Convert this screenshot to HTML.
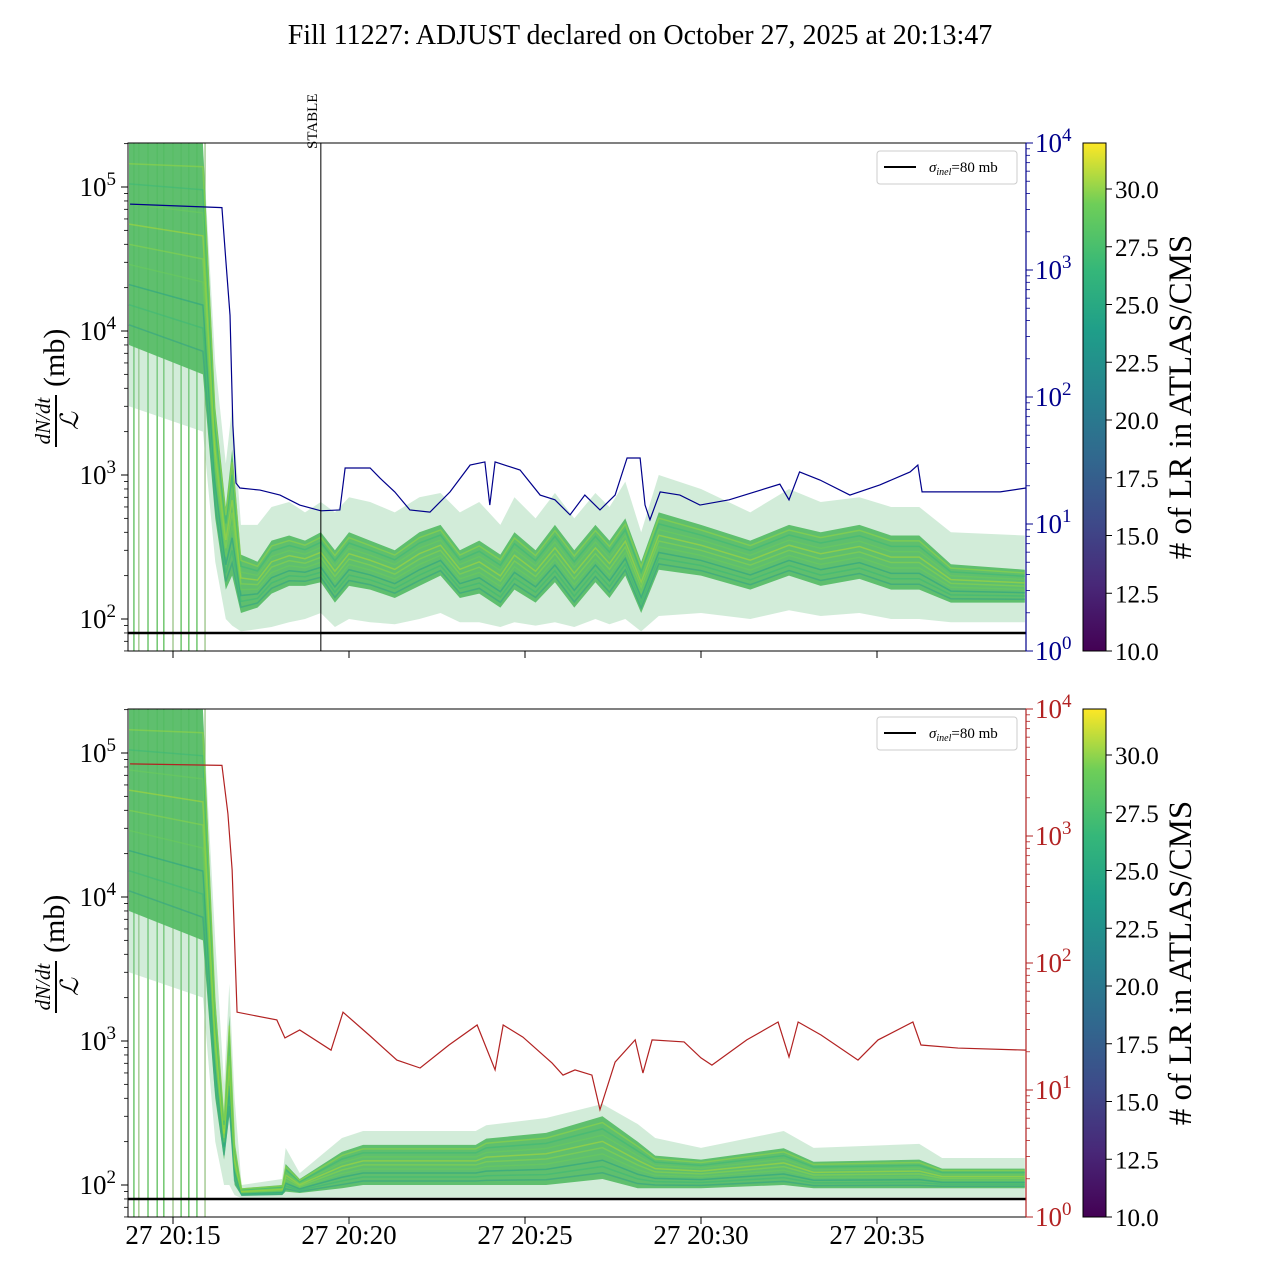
<!DOCTYPE html>
<html><head><meta charset="utf-8"><style>
html,body{margin:0;padding:0;background:#fff}
svg{display:block;font-family:"Liberation Serif","DejaVu Serif",serif}
</style></head><body>
<svg id="chart" width="1280" height="1280" viewBox="0 0 1280 1280" xmlns="http://www.w3.org/2000/svg">
<defs>
<linearGradient id="viridis" x1="0" y1="1" x2="0" y2="0">
<stop offset="0" stop-color="#440154"/><stop offset="0.13" stop-color="#482878"/><stop offset="0.25" stop-color="#3e4989"/><stop offset="0.38" stop-color="#31688e"/><stop offset="0.5" stop-color="#26828e"/><stop offset="0.63" stop-color="#1f9e89"/><stop offset="0.75" stop-color="#35b779"/><stop offset="0.88" stop-color="#6ece58"/><stop offset="1" stop-color="#fde725"/>
</linearGradient>
<clipPath id="clipTop"><rect x="128" y="143" width="898" height="508"/></clipPath>
<clipPath id="clipBot"><rect x="128" y="709" width="898" height="508"/></clipPath>
</defs>
<text x="640" y="44" text-anchor="middle" font-size="28">Fill 11227: ADJUST declared on October 27, 2025 at 20:13:47</text>
<g id="gTop"></g>
<g id="gBot"></g>
</svg>
<script>
// ---- data (time in minutes after 20:15) ----
const tickLabels = ["27 20:15","27 20:20","27 20:25","27 20:30","27 20:35"];
const tickTimes = [0,5,10,15,20];
const stableTime = 4.2;
const sigmaInel = 80;
const earlyLineTimes = [-1.11,-0.97,-0.71,-0.45,-0.26,0,0.23,0.45,0.68,0.91];
const bandTopT = [-1.25,0.85,1.2,1.5,1.68,1.93,2.4,2.8,3.3,3.75,4.2,4.6,5.0,5.6,6.3,7.0,7.6,8.15,8.7,9.3,9.7,10.3,10.85,11.4,12.0,12.4,12.85,13.3,13.8,15.0,16.4,17.5,18.4,19.5,20.4,21.2,22.1,24.2];
const bandTopOuterUp = [2e5,2e5,6000,1200,3000,450,450,600,650,550,650,550,700,650,550,700,750,550,650,450,700,500,750,500,750,600,900,400,1000,800,550,800,650,700,600,600,400,380];
const bandTopCoreUp = [2e5,2e5,3000,600,1500,280,250,350,380,350,400,300,400,350,300,400,450,300,350,280,400,300,450,300,450,350,500,250,550,450,350,450,400,450,380,380,240,220];
const bandTopCoreLo = [8000,5000,500,160,200,110,120,150,170,170,180,130,170,160,140,170,200,140,150,120,160,130,180,120,180,140,200,110,220,200,160,200,170,190,160,160,130,130];
const bandTopOuterLo = [3000,2000,250,100,90,82,85,88,95,100,110,88,100,95,92,100,110,95,95,88,95,90,95,88,100,92,100,82,105,110,100,115,105,110,100,100,95,95];
const bandBotT = [-1.25,0.85,1.2,1.45,1.6,1.75,1.95,3.1,3.2,3.6,4.8,5.4,8.6,8.9,10.6,12.2,13.2,13.7,15.0,17.35,18.2,21.2,21.85,24.2];
const bandBotOuterUp = [2e5,2e5,5000,500,2500,400,100,110,181,121,212,237,237,260,292,365,265,212,181,237,181,193,154,154];
const bandBotCoreUp = [2e5,2e5,2000,300,1500,200,95,100,140,110,170,190,190,210,230,300,200,160,150,180,145,150,130,130];
const bandBotCoreLo = [8000,5000,400,150,300,100,84,85,90,88,95,100,100,100,100,110,95,95,95,100,95,95,95,95];
const bandBotOuterLo = [3000,2000,200,100,100,85,81,81,82,81,82,82,82,82,82,82,82,82,82,82,82,82,82,82];
const lumTopT = [-1.22,1.39,1.5,1.62,1.7,1.79,1.9,2.47,3.04,3.6,4.2,4.74,4.89,5.6,5.88,6.3,6.73,7.3,7.87,8.44,8.86,9.0,9.15,9.86,10.43,10.85,11.28,11.7,12.13,12.56,12.9,13.27,13.41,13.55,13.84,14.4,14.97,15.8,17.24,17.5,17.8,18.38,19.23,20.08,20.94,21.16,21.28,23.5,24.23];
const lumTopV = [3300,3100,1200,440,60,21,19.2,18.5,16.9,14.1,12.7,12.9,27.6,27.6,23,17.9,12.9,12.4,17.9,29.1,30.8,14.1,30.8,26.6,16.9,15.5,11.8,16.9,12.9,16.9,33.1,33.1,14.1,10.8,17.9,16.9,14.1,15.5,20.6,15.5,25.7,22.2,16.9,20.3,25.7,29.1,17.9,17.9,19.2];
const lumBotT = [-1.22,1.39,1.56,1.68,1.82,2.95,3.18,3.6,4.49,4.83,5.57,6.36,7.02,7.84,8.64,9.15,9.38,9.94,10.77,11.08,11.42,11.9,12.13,12.56,13.13,13.35,13.61,14.52,15.0,15.31,16.3,17.19,17.5,17.76,18.41,19.46,20.03,21.02,21.25,22.3,24.23];
const lumBotV = [3700,3600,1500,540,41,35.6,25.7,29.7,20.6,41,27.1,17.2,14.9,22.6,32.5,14.4,32.5,26.1,16.3,13.1,14.4,13.1,7.0,16.6,24.8,13.6,24.8,23.9,17.9,15.7,24.8,34.3,18.2,34.3,27.1,17.2,24.8,34.3,22.6,21.4,20.6];
const cbarTicks = [10.0,12.5,15.0,17.5,20.0,22.5,25.0,27.5,30.0];
const leftTicks = [2,3,4,5];
const rightTicks = [0,1,2,3,4];

// ---- scales ----
const X0=128, X1=1026;
function xs(t){ return 173 + t*35.2; }
function mkY(top){ return v => top + 44 + (5 - Math.log10(v))*144; }
function mkYR(top){ return v => top + 508 - Math.log10(v)*127; }

const NS="http://www.w3.org/2000/svg";
function el(tag, attrs, parent){ const e=document.createElementNS(NS,tag); for(const k in attrs) e.setAttribute(k,attrs[k]); parent.appendChild(e); return e; }

function panel(g, top, clipId, T, oU, cU, cL, oL, lT, lV, lumColor, showX, showStable){
  const y=mkY(top), yr=mkYR(top);
  const cg=el('g',{'clip-path':'url(#'+clipId+')'},g);
  earlyLineTimes.forEach((t,i)=>{
    const l=el('line',{x1:xs(t),x2:xs(t),y1:top,y2:top+508,stroke:i%4==1?'#8fbf7a':'#4db84a','stroke-width':1.2},cg);
    
    
  });
  function poly(up, lo){
    let d='M'+T.map((t,i)=>xs(t)+','+y(up[i])).join('L');
    for(let i=T.length-1;i>=0;i--) d+='L'+xs(T[i])+','+y(lo[i]);
    return d+'Z';
  }
  const outer=el('path',{d:poly(oU,oL),fill:'#8fd0a0','fill-opacity':0.4},cg);
  
  
  const core=el('path',{d:poly(cU,cL),fill:'#52ba62','fill-opacity':0.9},cg);
  
  
  const fr=[0.1,0.2,0.3,0.4,0.5,0.6,0.7,0.8,0.9];
  const cols=['#2a9d8a','#35b779','#1f9e89','#6ece58','#8fd744','#b5de2b','#6ece58','#35b779','#9bd93c'];
  fr.forEach((f,j)=>{
    const d='M'+T.map((t,i)=>xs(t)+','+y(Math.pow(10,Math.log10(cL[i])*(1-f)+Math.log10(cU[i])*f))).join('L');
    const p=el('path',{d:d,fill:'none',stroke:cols[j],'stroke-width':1.5,'stroke-opacity':0.5},cg);
    
    
  });
  const sl=el('line',{x1:X0,x2:X1,y1:y(sigmaInel),y2:y(sigmaInel),stroke:'#000','stroke-width':2.5},g);
  
  
  const lp=el('path',{d:'M'+lT.map((t,i)=>xs(t)+','+yr(lV[i])).join('L'),fill:'none',stroke:lumColor,'stroke-width':1.2},cg);
  
  
  if(showStable){
    const sx=xs(stableTime);
    const s=el('line',{x1:sx,x2:sx,y1:top,y2:top+508,stroke:'#000','stroke-width':1},g);
    
    
    const st=el('text',{x:0,y:0,'font-size':15,transform:'translate('+(sx-4)+','+(top+6)+') rotate(-90)'},g);
    st.textContent='STABLE';
    
    
  }
  const fr2=el('rect',{x:X0,y:top,width:X1-X0,height:508,fill:'none',stroke:'#000','stroke-width':1},g);
  
  
  leftTicks.forEach(p=>{
    const yy=y(Math.pow(10,p));
    el('line',{x1:X0-7,x2:X0,y1:yy,y2:yy,stroke:'#000','stroke-width':1},g);
    const tx=el('text',{x:X0-12,y:yy+9,'text-anchor':'end','font-size':27},g);
    tx.innerHTML='10<tspan dy="-11" font-size="19">'+p+'</tspan>';
    
    
    for(let m=2;m<=9;m++){
      const ym=y(m*Math.pow(10,p-1));
      if(ym>=top && ym<=top+508) el('line',{x1:X0-4,x2:X0,y1:ym,y2:ym,stroke:'#000','stroke-width':0.8},g);
      const ym2=y(m*Math.pow(10,p));
      if(p==5 && ym2>=top) el('line',{x1:X0-4,x2:X0,y1:ym2,y2:ym2,stroke:'#000','stroke-width':0.8},g);
    }
  });
  rightTicks.forEach(p=>{
    const yy=yr(Math.pow(10,p));
    el('line',{x1:X1,x2:X1+7,y1:yy,y2:yy,stroke:lumColor,'stroke-width':1},g);
    const tx=el('text',{x:X1+9,y:yy+9,'font-size':27,fill:lumColor},g);
    tx.innerHTML='10<tspan dy="-11" font-size="19">'+p+'</tspan>';
    
    
    if(p<4) for(let m=2;m<=9;m++){ const ym=yr(m*Math.pow(10,p)); el('line',{x1:X1,x2:X1+4,y1:ym,y2:ym,stroke:lumColor,'stroke-width':0.8},g); }
  });
  el('line',{x1:X1,x2:X1,y1:top,y2:top+508,stroke:lumColor,'stroke-width':1.2},g);
  tickTimes.forEach((t,i)=>{
    el('line',{x1:xs(t),x2:xs(t),y1:top+508,y2:top+515,stroke:'#000','stroke-width':1},g);
    if(showX){
      const tx=el('text',{x:xs(t),y:top+535,'text-anchor':'middle','font-size':27},g);
      tx.textContent=tickLabels[i];
      
      
    }
  });
  const yl=el('g',{transform:'translate(58,'+(top+254)+') rotate(-90)'},g);
  
  
  const a=el('text',{x:-24,y:-8,'text-anchor':'middle','font-size':21,'font-style':'italic'},yl); a.textContent='dN/dt';
  el('line',{x1:-50,x2:2,y1:-2,y2:-2,stroke:'#000','stroke-width':2},yl);
  const b=el('text',{x:-24,y:20,'text-anchor':'middle','font-size':25,'font-style':'italic'},yl); b.textContent='ℒ';
  const c=el('text',{x:10,y:6,'font-size':30},yl); c.textContent='(mb)';
  const lg=el('g',{},g);
  
  
  el('rect',{x:877,y:top+8,width:140,height:33,rx:3,fill:'#fff',stroke:'#ccc','stroke-width':1},lg);
  el('line',{x1:884,x2:916,y1:top+24,y2:top+24,stroke:'#000','stroke-width':2},lg);
  const lt=el('text',{x:929,y:top+29,'font-size':15},lg);
  lt.innerHTML='<tspan font-style="italic">σ</tspan><tspan font-size="10" dy="3" font-style="italic">inel</tspan><tspan dy="-3">=80 mb</tspan>';
  const cb=el('g',{},g);
  
  
  el('rect',{x:1083,y:top,width:23,height:508,fill:'url(#viridis)',stroke:'#000','stroke-width':1},cb);
  cbarTicks.forEach(v=>{
    const yy=top+508-(v-10)/2.5*57.75;
    el('line',{x1:1106,x2:1112,y1:yy,y2:yy,stroke:'#000','stroke-width':1},cb);
    const tx=el('text',{x:1115,y:yy+9,'font-size':25},cb); tx.textContent=v.toFixed(1);
    
    
  });
  const cl=el('text',{x:0,y:0,'font-size':33,'text-anchor':'middle',transform:'translate(1191,'+(top+254)+') rotate(-90)'},cb);
  cl.textContent='# of LR in ATLAS/CMS';
  
  
}
panel(document.getElementById('gTop'),143,'clipTop',bandTopT,bandTopOuterUp,bandTopCoreUp,bandTopCoreLo,bandTopOuterLo,lumTopT,lumTopV,'#00008b',false,true);
panel(document.getElementById('gBot'),709,'clipBot',bandBotT,bandBotOuterUp,bandBotCoreUp,bandBotCoreLo,bandBotOuterLo,lumBotT,lumBotV,'#b22222',true,false);
</script>
</body></html>
